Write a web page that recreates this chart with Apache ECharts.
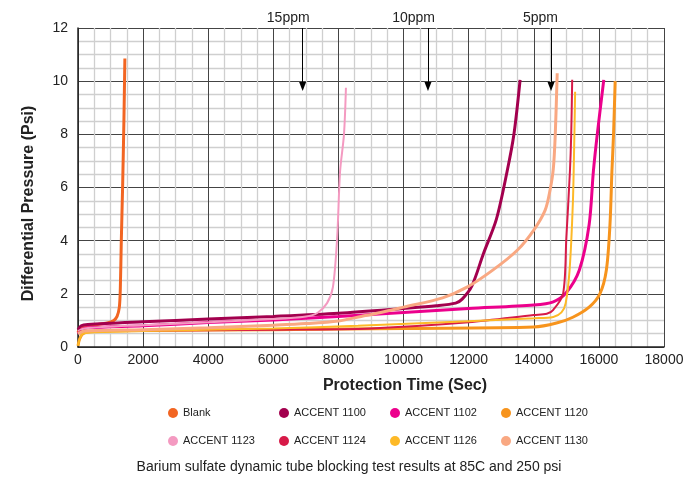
<!DOCTYPE html>
<html>
<head>
<meta charset="utf-8">
<script src="https://cdn.jsdelivr.net/npm/echarts@6/dist/echarts.min.js"></script>
<style>
  html, body { margin: 0; padding: 0; background: #fff; }
  #chart { width: 698px; height: 478px; }
</style>
</head>
<body>
<div id="chart"></div>
<script>
// data: [seconds, psi]
const blank = [[0,0.55],[100,0.75],[300,0.82],[600,0.85],[900,0.9],[1100,1.0],[1200,1.15],[1270,1.5],[1300,2.2],[1330,4],[1370,6],[1410,8.5],[1440,10.85]];
const accent1100 = [[0,0.65],[100,0.8],[300,0.85],[2000,0.95],[4000,1.05],[6000,1.15],[8000,1.27],[10000,1.45],[11000,1.55],[11600,1.65],[11800,1.8],[12100,2.3],[12450,3.5],[12850,4.8],[13180,6.6],[13390,8],[13580,10.05]];
const accent1102 = [[0,0.5],[100,0.65],[300,0.72],[2000,0.8],[4000,0.92],[6000,1.02],[8000,1.15],[10000,1.3],[12000,1.45],[14000,1.58],[14600,1.7],[15000,2.05],[15400,2.9],[15700,4.6],[15830,6.6],[15950,8],[16150,10.05]];
const accent1120 = [[0,0.05],[50,0.3],[150,0.5],[400,0.58],[2000,0.62],[6000,0.65],[10000,0.7],[14000,0.75],[14700,0.9],[15200,1.12],[15700,1.5],[16030,2.0],[16230,2.9],[16340,4.6],[16400,6.6],[16450,8],[16500,10.0]];
const accent1123 = [[0,0.6],[200,0.7],[2000,0.82],[4000,0.93],[6000,1.05],[7000,1.15],[7350,1.28],[7650,1.65],[7830,2.25],[7960,4.1],[8050,6.6],[8170,8],[8230,9.75]];
const accent1124 = [[0,0.5],[100,0.6],[2000,0.62],[6000,0.65],[9000,0.7],[12000,0.93],[14000,1.2],[14400,1.25],[14600,1.4],[14900,2.0],[15000,4.1],[15110,6.6],[15150,8],[15180,10.05]];
const accent1126 = [[0,0.05],[50,0.3],[150,0.5],[400,0.55],[2000,0.6],[6000,0.7],[8600,0.8],[12000,0.97],[14000,1.08],[14600,1.13],[14850,1.3],[14980,1.65],[15100,2.9],[15200,5.4],[15240,7.5],[15270,9.6]];
const accent1130 = [[0,0.5],[200,0.6],[2000,0.65],[4000,0.72],[6000,0.82],[7000,0.88],[8000,0.98],[8700,1.15],[9300,1.3],[10000,1.5],[11200,1.85],[11950,2.25],[12750,2.9],[13500,3.65],[14000,4.4],[14350,5.15],[14500,5.9],[14600,6.7],[14660,8],[14720,10.3]];

const annoX = [6900, 10750, 14530];
const annoLabels = ["15ppm", "10ppm", "5ppm"];
const annoTop = 12, annoTip = 9.8;

const FONT = "Liberation Sans";

const chart = echarts.init(document.getElementById("chart"));

function line(name, data, color, width) {
  return {
    name: name,
    type: "line",
    data: data,
    showSymbol: false,
    smooth: 0.3,
    lineStyle: { color: color, width: width },
    itemStyle: { color: color },
    z: 3
  };
}

const series = [
  line("Blank", blank, "#F26522", 3),
  line("ACCENT 1100", accent1100, "#A3004E", 3),
  line("ACCENT 1102", accent1102, "#EC008C", 3),
  line("ACCENT 1120", accent1120, "#F7941D", 3),
  line("ACCENT 1123", accent1123, "#F49AC1", 2),
  line("ACCENT 1124", accent1124, "#D71A48", 2),
  line("ACCENT 1126", accent1126, "#FDB927", 2),
  line("ACCENT 1130", accent1130, "#F9A882", 3)
];

// arrows for the dose annotations
series.push({
  type: "line",
  data: [],
  silent: true,
  markLine: {
    silent: true,
    symbol: ["none", "triangle"],
    symbolSize: [7, 9],
    label: { show: false },
    lineStyle: { color: "#000", width: 1, type: "solid" },
    data: annoX.map(x => [{ coord: [x, annoTop] }, { coord: [x, annoTip] }])
  }
});

chart.setOption({
  animation: false,
  textStyle: { fontFamily: FONT },
  grid: { left: 78, right: 34, top: 28, bottom: 131 },
  legend: {
    data: series.slice(0, 8).map(s => s.name),
    left: 163,
    top: 399,
    width: 460,
    icon: "circle",
    itemWidth: 10,
    itemHeight: 10,
    itemGap: 10,
    textStyle: { fontSize: 11, color: "#222", width: 86, lineHeight: 18, fontFamily: FONT }
  },
  title: {
    text: "Barium sulfate dynamic tube blocking test results at 85C and 250 psi",
    left: "center",
    top: 455,
    textStyle: { fontSize: 14, fontWeight: "normal", color: "#222", fontFamily: FONT }
  },
  xAxis: {
    type: "value",
    min: 0,
    max: 18000,
    interval: 2000,
    name: "Protection Time (Sec)",
    nameLocation: "middle",
    nameGap: 31,
    nameTextStyle: { fontSize: 16, fontWeight: "bold", color: "#222", padding: [0, 0, 0, 68] },
    axisLine: { lineStyle: { color: "#222", width: 1.5 } },
    axisTick: { show: false },
    axisLabel: { fontSize: 14, color: "#222", margin: 6, formatter: v => String(v) },
    splitLine: { show: true, lineStyle: { color: "#444", width: 1 } },
    minorTick: { show: false, splitNumber: 4 },
    minorSplitLine: { show: true, lineStyle: { color: "#cfcfcf", width: 1.3 } }
  },
  yAxis: {
    type: "value",
    min: 0,
    max: 12,
    interval: 2,
    name: "Differential Pressure (Psi)",
    nameLocation: "middle",
    nameGap: 41,
    nameTextStyle: { fontSize: 16, fontWeight: "bold", color: "#222", padding: [0, 32, 0, 0] },
    axisLine: { show: true, lineStyle: { color: "#222", width: 1.5 } },
    axisTick: { show: false },
    axisLabel: { fontSize: 14, color: "#222", margin: 10 },
    splitLine: { show: true, lineStyle: { color: "#444", width: 1 } },
    minorTick: { show: false, splitNumber: 4 },
    minorSplitLine: { show: true, lineStyle: { color: "#cfcfcf", width: 1.3 } }
  },
  series: series
});

// annotation texts placed from data coordinates
const texts = annoX.map((x, i) => {
  const p = chart.convertToPixel({ gridIndex: 0 }, [x, annoTop]);
  return {
    type: "text",
    x: p[0] + 7,
    y: p[1] - 10,
    style: {
      text: annoLabels[i],
      fontSize: 14,
      fontFamily: FONT,
      fill: "#222",
      align: "right",
      verticalAlign: "middle"
    }
  };
});
chart.setOption({ graphic: texts });
</script>
</body>
</html>
